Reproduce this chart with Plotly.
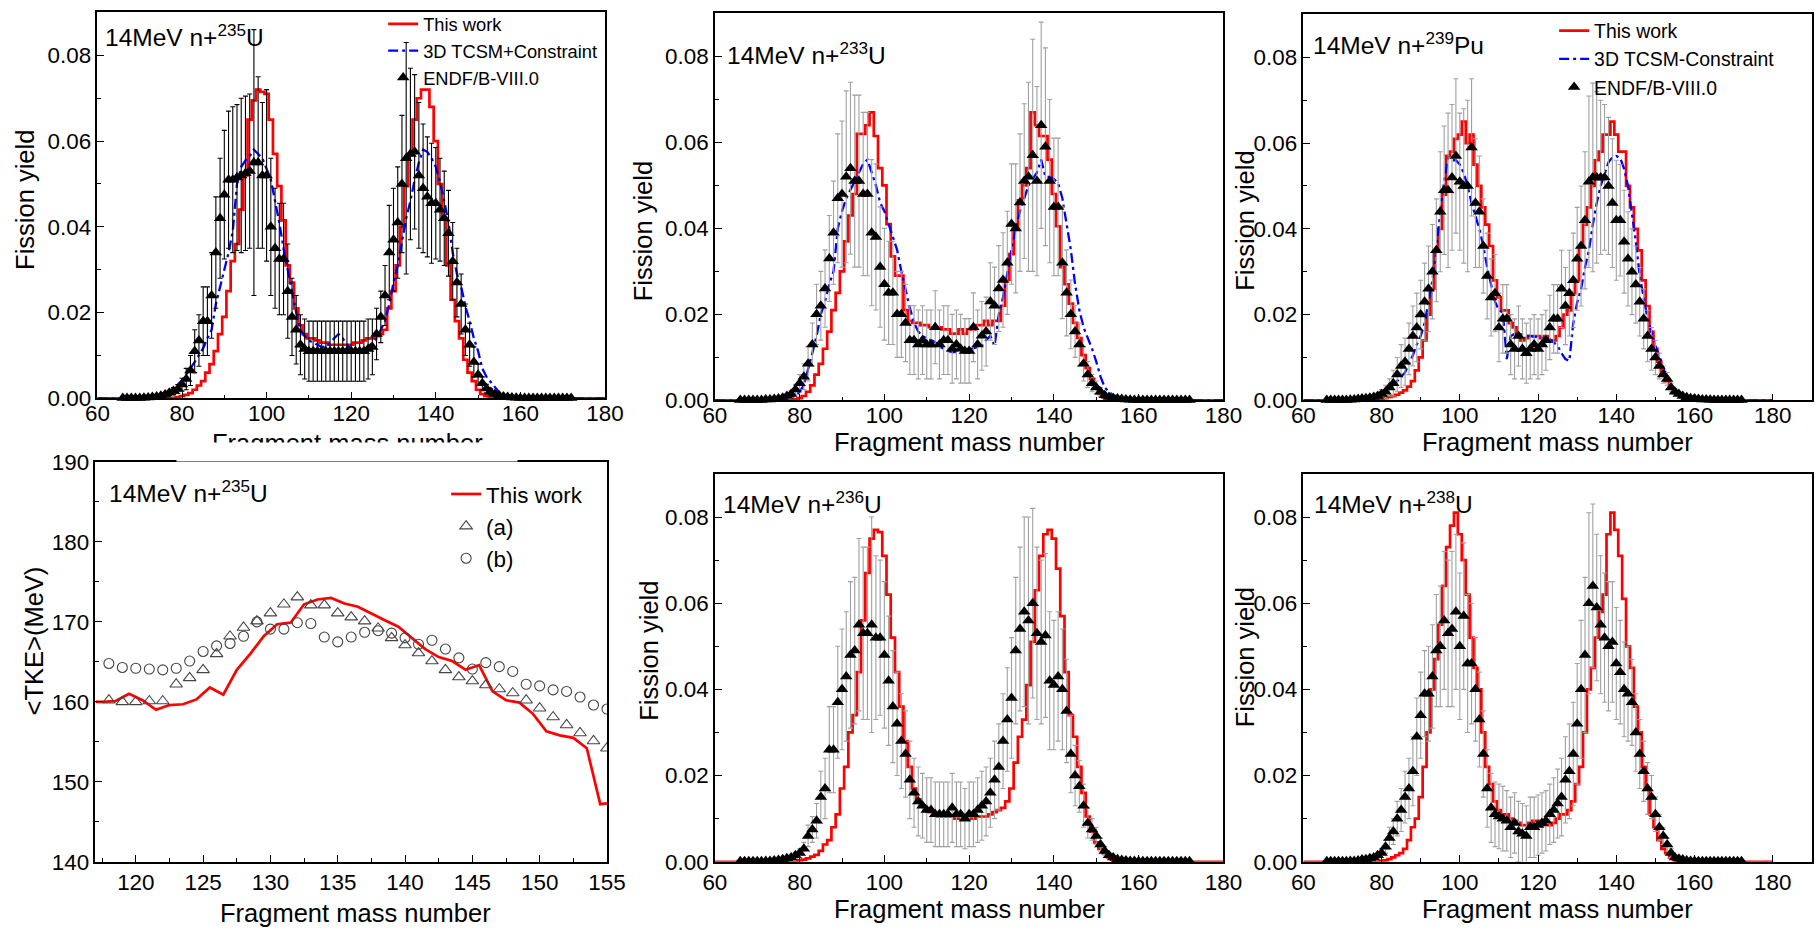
import plotly.graph_objects as go

# ------------------------------------------------------------------ data
# Mass-number grids
A_HIST = list(range(60, 181))   # model yield curves (one bin per A)
A_ENDF = list(range(66, 173))   # ENDF/B-VIII.0 evaluated yields

# All yields below are given per mille (x 1e-3)

# 14 MeV n + 235U
U235_THIS = [
    0, 0, 0, 0, 0, 0, 0, 0, 0, 0,
    0, 0, 0, 0, 0, 0, 0, 0, 0.1, 0.3,
    0.5, 0.8, 1.2, 2, 3, 4, 6, 8, 11, 15,
    19, 25, 32, 36, 44, 52, 65, 69.5, 72, 71.5,
    71, 65, 57, 49.5, 41.5, 31, 27, 21, 17, 15,
    14, 14, 13.5, 13, 13, 12.5, 12.5, 12.5, 12.5, 12.5,
    12.5, 13, 13, 13.5, 14, 14, 14.5, 15, 16, 21,
    25, 31, 40, 49.5, 57, 65, 70, 72, 72, 68,
    60, 50, 42, 31, 23, 18, 14, 9, 6, 4,
    2, 1, 0.5, 0.2, 0, 0, 0, 0, 0, 0,
    0, 0, 0, 0, 0, 0, 0, 0, 0, 0,
    0, 0, 0, 0, 0, 0, 0, 0, 0, 0,
    0,
]
U235_TCSM = [
    0, 0, 0, 0, 0, 0, 0, 0, 0, 0,
    0, 0, 0, 0, 0, 0.3, 0.7, 1.4, 2.2, 3.2,
    4.2, 5.5, 7, 8.5, 10, 11.7, 14, 16, 22, 26,
    30, 34, 39, 50, 54, 55.5, 56.5, 58, 57, 56,
    53.5, 51, 46, 41, 35, 30, 25, 20, 16, 14.5,
    13.5, 13, 12.5, 12, 12, 13, 14, 15, 14, 12.5,
    11.5, 11, 11, 11.5, 12, 13, 14, 16, 18, 22,
    27, 31, 37, 42, 46, 51, 55, 58, 57.5, 56,
    54, 50.5, 46, 41, 34, 29, 26, 21.5, 18, 14,
    11, 7, 5, 3.8, 2.5, 1.4, 0.9, 0.6, 0.3, 0,
    0, 0, 0, 0, 0, 0, 0, 0, 0, 0,
    0, 0, 0, 0, 0, 0, 0, 0, 0, 0,
    0,
]
U235_ENDF = [
    0.1, 0.1, 0.1, 0.1,
    0.1, 0.15, 0.2, 0.3, 0.4, 0.6, 0.9, 1.3, 1.7, 2.2,
    3.2, 4.5, 6.5, 11, 13.5, 18, 18, 24, 34, 42,
    47.5, 51, 51, 51.5, 52, 52.5, 53, 55, 55, 52,
    52, 40, 35, 32.5, 32.5, 25, 19, 16, 12.5, 11.5,
    11, 11, 11, 11, 11, 11, 11, 11, 11, 11,
    11, 11, 11, 11, 11.5, 12, 15, 19, 24, 34,
    37, 41, 50, 56, 57, 57.5, 52, 49, 47, 45.5,
    45.5, 44, 42, 38.5, 32, 27, 22, 16, 12.5, 8.5,
    5.5, 3.5, 2.3, 1.5, 1.0, 0.6, 0.4, 0.3, 0.2, 0.15,
    0.1, 0.1, 0.1, 0.1, 0.1, 0.1, 0.1, 0.1, 0.1, 0.1,
    0.1, 0.1, 0.1,
]
U235_ENDF_ERR = [
    0.1, 0.1, 0.1, 0.1,
    0.1, 0.1, 0.1, 0.2, 0.2, 0.3, 0.4, 0.6, 0.8, 1.0,
    1.5, 2.5, 3.5, 5, 6, 8, 8, 10, 13, 14,
    15, 16, 17, 17, 18, 18, 18, 31, 20, 17,
    20, 16, 14, 13, 13, 11, 9, 8, 7, 7,
    7, 7, 7, 7, 7, 7, 7, 7, 7, 7,
    7, 7, 7, 7, 7, 6.5, 6, 6, 7, 11,
    12, 13, 16, 27, 20, 18, 17, 15, 14, 14,
    13, 12, 11, 10, 9, 8, 7, 6, 5, 3.5,
    2.5, 1.5, 1, 0.7, 0.5, 0.3, 0.2, 0.2, 0.1, 0.1,
    0.1, 0.1, 0.1, 0.1, 0.1, 0.1, 0.1, 0.1, 0.1, 0.1,
    0.1, 0.1, 0.1,
]

# 14 MeV n + 233U
U233_THIS = [
    0, 0, 0, 0, 0, 0, 0, 0, 0, 0,
    0, 0, 0, 0, 0, 0, 0, 0, 0, 0.2,
    0.5, 1, 2, 3.5, 6, 8.5, 12, 16, 21, 25,
    30, 37, 43, 48, 62, 62, 64, 67, 61.5, 54,
    50, 41, 33.5, 29, 29, 21, 18.5, 18, 18, 17.5,
    17.5, 17, 17, 17, 16.5, 16.5, 15.5, 15.5, 16.5, 15.5,
    16.5, 16.5, 17.5, 17.5, 18.5, 17.5, 18.5, 18.5, 22, 28,
    34, 40, 46.5, 50, 54, 67, 64, 61.5, 61.5, 56,
    48, 40.5, 31, 27, 22.5, 18, 14.5, 10.5, 7.5, 5,
    3, 1.5, 0.6, 0.2, 0, 0, 0, 0, 0, 0,
    0, 0, 0, 0, 0, 0, 0, 0, 0, 0,
    0, 0, 0, 0, 0, 0, 0, 0, 0, 0,
    0,
]
U233_TCSM = [
    0, 0, 0, 0, 0, 0, 0, 0, 0, 0,
    0, 0, 0, 0, 0, 0, 0.2, 0.4, 0.7, 1,
    2, 3.5, 7, 11, 15, 20, 23, 27, 30, 40,
    44, 47, 49, 51, 53, 55, 56, 53, 50, 46,
    44, 41, 38, 35, 30, 25.5, 21.5, 18, 16, 15,
    14.3, 14, 13.5, 12.5, 12, 11.5, 11.2, 11.2, 11.2, 11.5,
    11.8, 12, 12.3, 12.7, 14, 15, 12.7, 20, 24, 30,
    35, 40, 44, 47, 50, 51.5, 53, 56, 52, 52,
    51.5, 50.5, 47, 41, 35, 27, 21, 17, 14.5, 12,
    9, 5.5, 3, 1.9, 1.2, 0.8, 0.5, 0.3, 0.1, 0,
    0, 0, 0, 0, 0, 0, 0, 0, 0, 0,
    0, 0, 0, 0, 0, 0, 0, 0, 0, 0,
    0,
]
U233_ENDF = [
    0.1, 0.1, 0.1, 0.1,
    0.1, 0.1, 0.2, 0.2, 0.3, 0.4, 0.6, 1.0, 1.5, 2.5,
    4, 5.5, 8.5, 13, 20, 22, 26, 33, 39, 47,
    48, 52, 54, 51, 51, 48, 48, 39, 38, 31,
    27, 25, 25, 20, 20, 18, 14, 14, 13, 14,
    13, 13, 17, 13, 14, 14, 12, 13, 12, 11.5,
    11.5, 17, 13, 15, 16, 23, 22, 26, 28, 32,
    41, 40, 46, 51, 52, 57, 51, 64, 59, 51,
    45, 45, 32, 25, 20, 16, 13, 8.5, 6, 4,
    3, 2, 1.2, 0.8, 0.5, 0.4, 0.3, 0.2, 0.15, 0.1,
    0.1, 0.1, 0.1, 0.1, 0.1, 0.1, 0.1, 0.1, 0.1, 0.1,
    0.1, 0.1, 0.1,
]
U233_ENDF_ERR = [
    0.1, 0.1, 0.1, 0.1,
    0.1, 0.1, 0.1, 0.1, 0.2, 0.2, 0.3, 0.5, 0.8, 1.2,
    2, 3, 4, 5, 7, 8, 9, 10, 12, 15,
    17, 20, 20, 20, 20, 19, 19, 17, 17, 14,
    13, 12, 12, 10, 10, 9, 8, 8, 8, 8,
    8, 8, 8.5, 8, 8, 8, 8, 8, 8, 7.5,
    7.5, 8, 8, 8, 8, 9, 9, 10, 11, 12,
    14, 15, 16, 18, 22, 27, 22, 24, 23, 19,
    16, 16, 13, 10, 8, 6, 5, 4, 3, 2,
    1.5, 1, 0.6, 0.4, 0.3, 0.2, 0.2, 0.1, 0.1, 0.1,
    0.1, 0.1, 0.1, 0.1, 0.1, 0.1, 0.1, 0.1, 0.1, 0.1,
    0.1, 0.1, 0.1,
]

# 14 MeV n + 239Pu
PU239_THIS = [
    0, 0, 0, 0, 0, 0, 0, 0, 0, 0,
    0, 0, 0, 0, 0, 0, 0, 0, 0, 0,
    0.2, 0.5, 0.8, 1.0, 1.3, 1.8, 2.3, 3.2, 4.5, 7,
    10, 14, 20, 26, 35, 40, 48, 57, 58, 61,
    62, 65, 60, 62, 55, 50, 45, 41, 36, 28,
    24, 21, 21, 18, 17, 15, 14, 14.5, 15, 15,
    15, 14.5, 15, 14, 14, 15, 17, 20, 21, 25,
    28, 36, 41, 45, 50, 56, 58, 62, 62, 65,
    62, 58, 58, 50, 45, 40, 35, 28, 22, 16,
    12, 9, 6.5, 4.5, 3, 2, 1.3, 0.8, 0.4, 0.2,
    0, 0, 0, 0, 0, 0, 0, 0, 0, 0,
    0, 0, 0, 0, 0, 0, 0, 0, 0, 0,
    0,
]
PU239_TCSM = [
    0, 0, 0, 0, 0, 0, 0, 0, 0, 0,
    0, 0, 0, 0, 0, 0.2, 0.4, 0.7, 1.1, 1.5,
    2, 2.5, 3, 3.5, 4.5, 5.5, 6.5, 8.5, 10.5, 13,
    15, 18, 23, 28, 35, 44, 51, 56.5, 56, 56,
    55, 53, 50, 46, 43, 40, 36, 31, 27, 23,
    21, 20.5, 9.6, 15, 15.5, 15.5, 15.3, 15, 15, 14.8,
    14.7, 14.6, 14.5, 14.3, 13.5, 12.7, 11, 9.6, 9.2, 18,
    22.8, 26, 31, 35, 41, 46, 50, 53, 55.5, 56.7,
    57, 56.5, 54, 50, 44, 37, 29, 24, 19, 16,
    12.7, 10.4, 7.5, 5, 3.5, 2, 1.2, 0.7, 0.4, 0.2,
    0, 0, 0, 0, 0, 0, 0, 0, 0, 0,
    0, 0, 0, 0, 0, 0, 0, 0, 0, 0,
    0,
]
PU239_ENDF = [
    0.1, 0.1, 0.1, 0.1,
    0.1, 0.1, 0.15, 0.2, 0.3, 0.4, 0.5, 0.6, 0.8, 1,
    1.5, 2, 3, 4, 6, 8, 9, 12, 15, 17,
    20, 23, 26, 30, 35, 44, 49, 49, 52, 57,
    51, 50, 50, 59, 46, 44, 36, 29, 24, 25,
    17, 19, 19, 13, 12, 15, 12, 11, 12, 13,
    12, 13, 14, 17, 19, 19, 26, 22, 25, 28,
    33, 36, 42, 51, 52, 52, 52, 52, 50, 46,
    42, 42, 37, 33, 30, 27, 23, 19, 15, 12,
    10, 8, 6, 5, 3, 2, 1.5, 1, 0.7, 0.5,
    0.4, 0.3, 0.2, 0.2, 0.15, 0.1, 0.1, 0.1, 0.1, 0.1,
    0.1, 0.1, 0.1,
]
PU239_ENDF_ERR = [
    0.1, 0.1, 0.1, 0.1,
    0.1, 0.1, 0.1, 0.1, 0.2, 0.2, 0.3, 0.4, 0.5, 0.7,
    1, 1.5, 2, 3, 4, 5, 5.5, 6, 7, 8,
    8, 9, 10, 11, 12, 14, 15, 18, 17, 18,
    16, 18, 20, 16, 15, 13, 11, 10, 9, 9,
    8, 8, 8, 7, 7, 7, 7, 7, 7, 7,
    7, 7, 7, 7.5, 8, 8, 9, 9, 10, 11,
    12, 14, 16, 20, 22, 20, 18, 17, 16, 15,
    14, 13, 12, 11, 10, 9, 8, 7, 6, 5,
    4, 3, 2, 1.5, 1, 0.7, 0.5, 0.3, 0.2, 0.2,
    0.1, 0.1, 0.1, 0.1, 0.1, 0.1, 0.1, 0.1, 0.1, 0.1,
    0.1, 0.1, 0.1,
]

# 14 MeV n + 236U
U236_THIS = [
    0, 0, 0, 0, 0, 0, 0, 0, 0, 0,
    0, 0, 0, 0, 0, 0, 0, 0, 0, 0,
    0.3, 0.5, 0.8, 1.2, 1.6, 2.5, 4, 5, 8, 11,
    17, 22, 30, 34, 44, 56, 67, 75, 77, 76.5,
    71, 62, 52, 44, 36, 28, 22, 17, 14.5, 13,
    12, 11.5, 11, 10.5, 10.5, 10.5, 10.5, 10, 10, 10,
    10, 10, 10.5, 10.5, 10.5, 11, 11.5, 12, 12.5, 14,
    17, 23, 29, 33, 41, 51, 63, 71, 76, 77,
    75, 68, 57, 44, 34, 29, 22, 16, 10.5, 7,
    4.5, 3, 2, 1, 0.5, 0.2, 0, 0, 0, 0,
    0, 0, 0, 0, 0, 0, 0, 0, 0, 0,
    0, 0, 0, 0, 0, 0, 0, 0, 0, 0,
    0,
]
U236_ENDF = [
    0.1, 0.1, 0.1, 0.1,
    0.1, 0.1, 0.15, 0.2, 0.3, 0.4, 0.6, 0.8, 1.0, 1.5,
    2, 3, 6, 7.5, 9.5, 15, 17, 26, 26, 37,
    40, 43, 48, 49, 55, 53, 53, 55, 52, 52,
    48, 42, 36, 32, 28, 25, 19, 16, 14, 13,
    12, 12, 11, 11, 11, 11, 12.5, 11, 11, 10,
    11, 11, 12, 13, 14, 16, 19, 22, 28, 33,
    38, 49, 54, 58, 56, 60, 53, 51, 52.5, 42,
    41, 43, 40, 35, 25, 20, 17.5, 13, 9, 7.5,
    6, 4, 2.5, 1.5, 1, 0.6, 0.4, 0.3, 0.2, 0.15,
    0.1, 0.1, 0.1, 0.1, 0.1, 0.1, 0.1, 0.1, 0.1, 0.1,
    0.1, 0.1, 0.1,
]
U236_ENDF_ERR = [
    0.1, 0.1, 0.1, 0.1,
    0.1, 0.1, 0.1, 0.1, 0.2, 0.2, 0.3, 0.4, 0.5, 0.7,
    1, 1.5, 2.5, 3, 4, 6, 7, 10, 10, 13,
    14, 15, 17, 17, 20, 20, 20, 25, 19, 18,
    17, 15, 13, 12, 11, 10, 9, 8, 8, 7.5,
    7.5, 7.5, 7.5, 7.5, 7.5, 7.5, 8, 7.5, 7.5, 7,
    7.5, 7.5, 7.5, 8, 8, 8, 9, 10, 11, 12,
    14, 17, 19, 22, 24, 22, 20, 19, 19, 16,
    15, 15, 14, 12, 9, 7, 6, 5, 3.5, 2.5,
    2, 1.5, 1, 0.6, 0.4, 0.3, 0.2, 0.2, 0.1, 0.1,
    0.1, 0.1, 0.1, 0.1, 0.1, 0.1, 0.1, 0.1, 0.1, 0.1,
    0.1, 0.1, 0.1,
]

# 14 MeV n + 238U
U238_THIS = [
    0, 0, 0, 0, 0, 0, 0, 0, 0, 0,
    0, 0, 0, 0, 0, 0, 0, 0, 0, 0,
    0.2, 0.3, 0.6, 1, 1.5, 2, 3, 5, 8, 10,
    15, 22, 30, 40, 47, 55, 64, 73, 78, 81,
    76, 70, 62, 52, 45, 40, 30, 22, 18, 14,
    12, 11, 11, 10, 9.5, 9, 8.5, 8.5, 9, 9.5,
    9.5, 9, 8.5, 8.5, 9, 10, 11, 11, 12, 14,
    18, 22, 30, 40, 45, 52, 58, 62, 76, 81,
    77, 71, 61, 50, 45, 36, 30, 22, 17, 11,
    8, 5, 3, 2, 1, 0.5, 0.2, 0, 0, 0,
    0, 0, 0, 0, 0, 0, 0, 0, 0, 0,
    0, 0, 0, 0, 0, 0, 0, 0, 0, 0,
    0,
]
U238_ENDF = [
    0.1, 0.1, 0.1, 0.1,
    0.1, 0.1, 0.15, 0.2, 0.3, 0.5, 0.6, 0.8, 1, 1.5,
    2, 3.5, 5.5, 7, 10, 12, 15, 17, 21, 29,
    34, 39, 39, 43, 49, 50, 56, 53, 54, 58,
    50, 57, 46, 46, 40, 33, 25, 17, 12.5, 11,
    10.5, 10, 9.5, 8, 9, 7, 6.5, 6, 8, 8,
    8.5, 9, 9.5, 11, 12, 13.5, 15, 19, 21, 25,
    32, 40, 48, 60, 64, 59, 55, 52, 50, 51,
    46, 44, 40, 39, 37, 30, 25, 21, 17, 15,
    11, 8, 6, 4, 2, 1, 0.7, 0.5, 0.3, 0.2,
    0.15, 0.1, 0.1, 0.1, 0.1, 0.1, 0.1, 0.1, 0.1, 0.1,
    0.1, 0.1, 0.1,
]
U238_ENDF_ERR = [
    0.1, 0.1, 0.1, 0.1,
    0.1, 0.1, 0.1, 0.1, 0.2, 0.2, 0.3, 0.4, 0.5, 0.7,
    1, 1.5, 2.5, 3, 4, 5, 6, 7, 8, 9,
    10, 10, 11, 12, 13, 14, 16, 17, 18, 18,
    17, 17, 16, 14, 12, 11, 10, 9, 8, 7.5,
    7.5, 7.5, 7, 7, 7, 7, 7, 7, 7, 7,
    7, 7, 7, 7, 7.5, 8, 9, 10, 11, 12,
    14, 16, 18, 21, 19, 17, 16, 15, 15, 14,
    13, 12, 11, 11, 10, 9, 8, 7, 6, 5,
    4, 3, 2, 1.5, 1, 0.5, 0.3, 0.2, 0.1, 0.1,
    0.1, 0.1, 0.1, 0.1, 0.1, 0.1, 0.1, 0.1, 0.1, 0.1,
    0.1, 0.1, 0.1,
]

# <TKE> versus fragment mass, 14 MeV n + 235U (MeV)
TKE_THIS_A = [117, 117.5, 118.5, 119.5, 120.5, 121.5, 122.5, 123.5, 124.5, 125.5,
              126.5, 127.5, 128.5, 129.5, 130.5, 131.5, 132.5, 133.5, 134.5, 135.5,
              136.5, 137.5, 138.5, 139.5, 140.5, 141.5, 142.5, 143.5, 144.5, 145.5,
              146.5, 147.5, 148.5, 149.5, 150.5, 151.5, 152.5, 153.5, 154.5, 155]
TKE_THIS = [160.0, 160.0, 160.1, 161.0, 160.2, 159.0, 159.6, 159.7, 160.3, 161.8,
            160.9, 164.0, 166.0, 168.2, 169.7, 169.9, 172.2, 172.8, 173.0, 172.3,
            171.9, 171.0, 170.2, 169.4, 168.0, 166.6, 165.6, 165.1, 164.0, 164.6,
            161.3, 160.2, 159.9, 158.5, 156.3, 155.8, 155.5, 154.2, 147.2, 147.3]
TKE_EXP_A = list(range(118, 156))
TKE_EXP_A_VALUES = [160.2, 160.0, 160.0, 160.1, 160.1, 162.2, 163.0, 164.0, 166.0, 168.2,
                    169.3, 170.1, 171.1, 172.2, 173.1, 172.1, 172.1, 171.1, 170.6, 170.1,
                    169.2, 168.0, 167.1, 166.1, 165.1, 164.0, 163.1, 162.6, 162.1, 161.6,
                    161.1, 160.2, 159.2, 158.1, 157.1, 156.1, 155.1, 154.2]
TKE_EXP_B_VALUES = [164.8, 164.3, 164.2, 164.1, 164.0, 164.2, 165.1, 166.3, 167.0, 167.3,
                    168.2, 170.0, 169.1, 169.1, 169.9, 169.8, 168.1, 167.5, 168.1, 168.7,
                    168.9, 168.6, 168.0, 167.2, 167.7, 166.6, 165.5, 164.1, 164.9, 164.4,
                    163.8, 162.2, 162.0, 161.5, 161.3, 160.6, 159.6, 159.1]

LABEL_THIS = "This work"
LABEL_ENDF = "ENDF/B-VIII.0"


def per_mille(values):
    return [v / 1000.0 for v in values]


# ------------------------------------------------------------------ layout
# Positions below are given in displayed page pixels (1816 x 933 window).
# The figure sits inside the page with a small offset and is shown slightly
# reduced, so page pixels are mapped back to figure pixels here.
PAGE_W, PAGE_H = 1816, 933
OFF_X, OFF_Y = 9.5, 7.5
SCALE_X, SCALE_Y = 0.984, 0.979
FIG_W = round((PAGE_W - OFF_X) / SCALE_X)
FIG_H = round((PAGE_H - OFF_Y) / SCALE_Y)
SIZE_K = 2.0 / (SCALE_X + SCALE_Y)   # keeps displayed text sizes as intended

FONT = "Liberation Sans, Arial, Helvetica, sans-serif"
RED = "#ff0000"
BLUE = "#0000ff"
GRAY = "#a0a0a0"

# plot frames (page pixels): left, top, right, bottom
FRAMES = {
    1: (95, 8, 603, 396),
    2: (713, 9, 1222, 398),
    3: (1302, 10, 1811, 398),
    4: (93, 460, 605, 862),
    5: (713, 472, 1222, 862),
    6: (1302, 472, 1811, 862),
}


def fx(px):
    return (px - OFF_X) / SCALE_X / FIG_W


def fy(py):
    return 1 - (py - OFF_Y) / SCALE_Y / FIG_H


def clamp01(v):
    return min(1.0, max(0.0, v))


def fs(size):
    return round(size * SIZE_K, 1)


def ax_names(n):
    s = "" if n == 1 else str(n)
    return "x" + s, "y" + s, "xaxis" + s, "yaxis" + s


fig = go.Figure()


def add_yield_panel(n, this_work, tcsm, endf, endf_err, err_color,
                    tcsm_label=None, legend=None):
    xa, ya, _, _ = ax_names(n)
    show = legend is not None
    fig.add_trace(go.Scatter(
        x=A_HIST, y=per_mille(this_work), mode="lines", line_shape="hvh",
        line=dict(color=RED, width=2.7), name=LABEL_THIS,
        xaxis=xa, yaxis=ya, showlegend=show, legend=legend or "legend"))
    if tcsm is not None:
        fig.add_trace(go.Scatter(
            x=A_HIST, y=per_mille(tcsm), mode="lines",
            line=dict(color=BLUE, width=2.3, dash="10px,4px,3px,4px"),
            name=tcsm_label, xaxis=xa, yaxis=ya,
            showlegend=show, legend=legend or "legend"))
    fig.add_trace(go.Scatter(
        x=A_ENDF, y=per_mille(endf), mode="markers",
        marker=dict(symbol="triangle-up", size=11, color="black"),
        error_y=dict(type="data", array=per_mille(endf_err), visible=True,
                     color=err_color, thickness=1.1, width=2.5),
        name=LABEL_ENDF, xaxis=xa, yaxis=ya, cliponaxis=False,
        showlegend=show, legend=legend or "legend"))


add_yield_panel(1, U235_THIS, U235_TCSM, U235_ENDF, U235_ENDF_ERR, "black",
                "3D TCSM+Constraint", legend="legend")
add_yield_panel(2, U233_THIS, U233_TCSM, U233_ENDF, U233_ENDF_ERR, GRAY)
add_yield_panel(3, PU239_THIS, PU239_TCSM, PU239_ENDF, PU239_ENDF_ERR, GRAY,
                "3D TCSM-Constraint", legend="legend2")
add_yield_panel(5, U236_THIS, None, U236_ENDF, U236_ENDF_ERR, GRAY)
add_yield_panel(6, U238_THIS, None, U238_ENDF, U238_ENDF_ERR, GRAY)

# <TKE> panel
fig.add_trace(go.Scatter(
    x=TKE_THIS_A, y=TKE_THIS, mode="lines", line=dict(color=RED, width=2.7),
    name=LABEL_THIS, xaxis="x4", yaxis="y4", legend="legend3"))
fig.add_trace(go.Scatter(
    x=TKE_EXP_A, y=TKE_EXP_A_VALUES, mode="markers",
    marker=dict(symbol="triangle-up-open", size=11, color="#444444",
                line=dict(width=1.1, color="#444444")),
    name="(a)", xaxis="x4", yaxis="y4", legend="legend3"))
fig.add_trace(go.Scatter(
    x=TKE_EXP_A, y=TKE_EXP_B_VALUES, mode="markers",
    marker=dict(symbol="circle-open", size=10, color="#444444",
                line=dict(width=1.1, color="#444444")),
    name="(b)", xaxis="x4", yaxis="y4", legend="legend3"))

TICKFONT = dict(family=FONT, size=fs(22), color="black")


def base_axis(**kw):
    d = dict(showline=True, linecolor="black", linewidth=1.5, mirror=True,
             ticks="inside", ticklen=7, tickwidth=1.3, tickcolor="black",
             showgrid=False, zeroline=False, tickfont=TICKFONT,
             fixedrange=True)
    d.update(kw)
    return d


layout_axes = {}
for n, (l, t, r, b) in FRAMES.items():
    xa, ya, xkey, ykey = ax_names(n)
    if n == 4:
        xr, xt0, xdt, xmin = [117, 155], 120, 5, 2.5
        yr, ydt, ymin, yfmt = [140, 190], 10, 5, ""
    else:
        xr = [60, 190] if n in (3, 6) else [60, 180]
        xt0, xdt, xmin = 60, 20, 10
        yr, ydt, ymin, yfmt = [0, 0.09], 0.02, 0.01, ".2f"
    layout_axes[xkey] = base_axis(
        domain=[clamp01(fx(l)), clamp01(fx(r))], anchor=ya, range=xr,
        tick0=xt0, dtick=xdt,
        ticklabelstandoff=-6 if n <= 3 else 0,
        minor=dict(ticks="inside", ticklen=4, tickwidth=1, tickcolor="black",
                   dtick=xmin, showgrid=False))
    layout_axes[ykey] = base_axis(
        domain=[clamp01(fy(b)), clamp01(fy(t))], anchor=xa, range=yr,
        tick0=yr[0], dtick=ydt, tickformat=yfmt,
        minor=dict(ticks="inside", ticklen=4, tickwidth=1, tickcolor="black",
                   dtick=ymin, showgrid=False))


def text_ann(text, x, y, size, xanchor="left", yanchor="middle", angle=0, **kw):
    d = dict(text=text, x=fx(x), y=fy(y), xref="paper", yref="paper",
             showarrow=False, xanchor=xanchor, yanchor=yanchor, textangle=angle,
             font=dict(family=FONT, size=fs(size), color="black"))
    d.update(kw)
    return d


annotations = [
    # reaction labels
    text_ann("14MeV n+<sup>235</sup>U", 101, 31, 24),
    text_ann("14MeV n+<sup>233</sup>U", 723, 49, 24),
    text_ann("14MeV n+<sup>239</sup>Pu", 1310, 39, 24),
    text_ann("14MeV n+<sup>235</sup>U", 105, 490, 24),
    text_ann("14MeV n+<sup>236</sup>U", 719, 501, 24),
    text_ann("14MeV n+<sup>238</sup>U", 1311, 501, 24),
    # y-axis titles
    text_ann("Fission yield", 23, 196, 25, "center", "middle", -90),
    text_ann("Fission yield", 641, 228, 25, "center", "middle", -90),
    text_ann("Fission yield", 1244, 217, 25, "center", "middle", -90),
    text_ann("&lt;TKE&gt;(MeV)", 31, 640, 25, "center", "middle", -90),
    text_ann("Fission yield", 647, 650, 25, "center", "middle", -90),
    text_ann("Fission yield", 1243, 656, 25, "center", "middle", -90),
    # x-axis titles
    text_ann("Fragment mass number", 345, 441, 25, "center", "middle"),
    text_ann("Fragment mass number", 968, 440, 25, "center", "middle"),
    text_ann("Fragment mass number", 1556, 440, 25, "center", "middle"),
    text_ann("Fragment mass number", 353, 914, 25, "center", "middle"),
    text_ann("Fragment mass number", 968, 910, 25, "center", "middle"),
    text_ann("Fragment mass number", 1556, 910, 25, "center", "middle"),
    # lower part of the top-left title is hidden under the panel below
    text_ann(" ", 345, 440, 10, "center", "top", bgcolor="white",
             width=340, height=18, borderpad=0),
]


def legend_box(x, y, size):
    return dict(x=fx(x), y=fy(y), xanchor="left", yanchor="top",
                bgcolor="rgba(0,0,0,0)", borderwidth=0, tracegroupgap=0,
                font=dict(family=FONT, size=fs(size), color="black"))


fig.update_layout(
    width=FIG_W, height=FIG_H, margin=dict(l=0, r=0, t=0, b=0),
    paper_bgcolor="white", plot_bgcolor="white",
    font=dict(family=FONT, color="black"),
    annotations=annotations,
    legend=legend_box(381, 1, 18),
    legend2=legend_box(1553, 7, 19),
    legend3=legend_box(444, 471, 22),
    **layout_axes,
)

fig.write_html("out.html")
